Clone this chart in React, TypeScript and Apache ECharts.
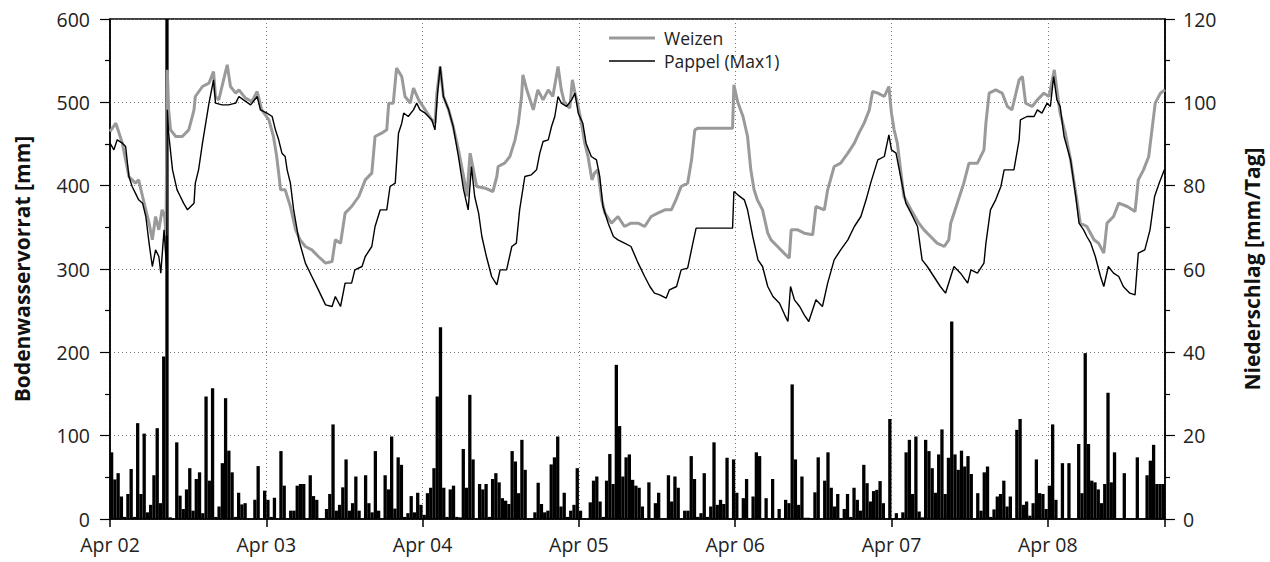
import React, { useEffect, useRef } from "react";
import * as echarts from "echarts";

// Hours since Apr 02 00:00 and soil water storage (mm)
const weizenHours = [0, 0.9, 1.9, 2.9, 3.9, 4.4, 5.0, 5.5, 6.0, 6.5, 7.0, 7.5, 8.0, 8.4, 8.6, 8.8, 9.0, 9.3, 10.1, 11.1, 12.1, 12.9, 13.1, 14.2, 15.2, 15.9, 16.2, 16.7, 18.0, 18.5, 19.3, 19.8, 20.8, 21.8, 22.6, 23.3, 24.4, 25.1, 25.6, 26.2, 26.9, 27.7, 28.5, 29.2, 30.0, 31.0, 32.0, 33.1, 34.1, 34.6, 35.4, 36.1, 37.1, 38.2, 39.2, 40.2, 40.7, 41.7, 42.5, 42.8, 43.5, 44.0, 44.8, 45.3, 46.1, 46.6, 47.4, 48.4, 49.4, 49.9, 50.2, 50.7, 51.2, 52.0, 52.7, 53.5, 54.3, 54.8, 55.3, 55.8, 56.3, 57.6, 58.8, 59.4, 59.6, 60.6, 61.4, 62.2, 62.7, 63.2, 63.4, 64.0, 65.0, 65.7, 66.5, 67.3, 68.0, 68.8, 69.3, 69.8, 70.6, 71.0, 71.4, 71.9, 72.4, 72.9, 73.4, 74.0, 74.4, 74.9, 75.5, 76.0, 77.0, 78.0, 79.0, 80.0, 81.1, 82.1, 83.1, 84.1, 85.2, 86.2, 86.9, 87.7, 88.7, 89.3, 89.8, 90.3, 95.6, 95.8, 96.4, 97.2, 97.9, 98.4, 98.9, 99.4, 100.2, 101.0, 101.5, 102.5, 103.5, 104.3, 104.6, 105.6, 106.6, 107.9, 108.4, 109.7, 110.2, 111.2, 112.2, 113.3, 114.3, 115.0, 115.8, 116.6, 117.1, 117.9, 118.9, 119.6, 120.0, 120.4, 120.9, 121.9, 123.0, 124.2, 125.0, 126.0, 127.0, 128.1, 128.8, 129.1, 130.1, 131.1, 131.9, 133.2, 134.2, 134.5, 135.0, 136.0, 137.0, 137.8, 138.5, 139.6, 140.1, 140.6, 141.6, 142.4, 143.4, 144.2, 145.0, 145.4, 145.9, 146.7, 147.5, 148.3, 149.0, 150.0, 151.1, 151.8, 152.6, 153.1, 154.1, 154.9, 156.2, 157.4, 157.9, 158.7, 159.5, 160.0, 160.5, 161.3, 162.0];
const weizenValues = [465, 475, 451, 411, 403, 407, 387, 371, 355, 335, 363, 347, 371, 363, 340, 539, 491, 467, 459, 459, 467, 491, 507, 519, 523, 537, 507, 503, 545, 519, 511, 515, 505, 501, 513, 491, 479, 459, 435, 395, 395, 375, 347, 335, 327, 323, 315, 307, 309, 335, 331, 367, 375, 387, 407, 415, 459, 463, 467, 499, 499, 541, 531, 507, 499, 517, 503, 491, 479, 475, 511, 543, 507, 491, 471, 443, 411, 387, 439, 419, 399, 397, 393, 411, 423, 427, 435, 455, 475, 507, 533, 515, 491, 515, 503, 515, 507, 543, 515, 499, 493, 527, 511, 495, 475, 451, 435, 407, 415, 419, 383, 367, 355, 363, 351, 355, 355, 351, 363, 367, 371, 371, 383, 399, 403, 431, 467, 469, 469, 521, 500, 483, 459, 419, 395, 383, 371, 343, 335, 327, 319, 313, 347, 347, 343, 341, 375, 371, 395, 423, 427, 439, 451, 463, 475, 491, 513, 511, 507, 519, 487, 467, 451, 387, 371, 355, 347, 339, 331, 327, 335, 355, 379, 403, 427, 427, 443, 475, 511, 515, 511, 495, 491, 527, 531, 499, 495, 503, 511, 507, 539, 515, 487, 463, 431, 391, 355, 351, 335, 331, 319, 355, 363, 379, 375, 369, 407, 419, 435, 467, 499, 511, 515];

const pappelHours = [0.0, 0.6, 1.1, 1.9, 2.4, 2.9, 3.4, 3.9, 4.4, 5.0, 5.5, 6.0, 6.5, 7.0, 7.5, 7.8, 8.3, 8.5, 8.7, 8.8, 9.0, 9.6, 10.3, 10.8, 11.3, 11.9, 12.4, 12.9, 13.1, 13.6, 14.2, 14.7, 15.2, 15.7, 15.9, 16.2, 17.2, 18.2, 19.3, 19.8, 20.5, 21.6, 22.6, 23.1, 24.1, 24.9, 25.4, 25.9, 26.4, 26.9, 27.2, 27.7, 28.2, 29.0, 30.0, 31.0, 32.0, 33.1, 34.1, 34.6, 35.4, 36.1, 37.1, 37.6, 38.7, 39.2, 40.2, 40.7, 41.5, 42.5, 43.0, 43.8, 44.3, 44.8, 45.1, 45.8, 46.6, 47.1, 47.6, 48.4, 49.4, 49.9, 50.3, 50.7, 51.2, 52.0, 52.7, 53.5, 54.3, 55.0, 55.5, 56.0, 56.6, 57.1, 57.8, 58.6, 59.4, 59.9, 60.9, 61.7, 62.4, 62.9, 63.7, 64.7, 65.5, 66.0, 66.5, 67.3, 67.8, 68.3, 68.8, 69.3, 70.1, 70.9, 71.4, 71.9, 72.6, 73.1, 73.9, 74.7, 75.2, 75.7, 76.5, 77.3, 78.0, 79.0, 80.0, 81.1, 82.1, 82.9, 83.6, 84.4, 85.4, 85.9, 87.0, 87.7, 88.7, 89.5, 90.0, 95.6, 95.8, 96.4, 97.4, 97.9, 98.7, 99.5, 100.2, 101.0, 101.8, 102.8, 103.6, 104.1, 104.5, 105.1, 105.9, 106.6, 107.3, 108.4, 109.4, 110.2, 111.2, 112.2, 113.3, 114.3, 115.3, 116.1, 116.8, 117.9, 118.9, 119.6, 120.0, 120.7, 121.4, 122.2, 123.0, 124.0, 124.7, 125.5, 126.5, 127.5, 128.3, 129.1, 129.6, 130.6, 131.7, 132.2, 133.2, 134.2, 134.5, 135.2, 136.0, 136.8, 137.3, 138.8, 139.6, 139.8, 140.8, 141.9, 142.4, 143.1, 143.9, 144.4, 144.9, 145.4, 145.9, 146.5, 147.5, 148.3, 148.8, 149.5, 150.0, 150.6, 151.3, 152.1, 152.6, 153.3, 154.1, 154.9, 155.6, 156.6, 157.4, 157.9, 158.9, 159.7, 160.4, 161.1, 161.9];
const pappelValues = [451, 443, 455, 451, 447, 411, 399, 391, 383, 379, 363, 331, 303, 323, 315, 295, 347, 323, 300, 491, 463, 419, 395, 387, 379, 371, 375, 379, 403, 419, 451, 475, 499, 519, 527, 499, 497, 497, 499, 507, 503, 497, 507, 491, 487, 483, 467, 455, 439, 435, 419, 403, 371, 335, 307, 291, 275, 257, 255, 267, 255, 283, 283, 299, 303, 315, 327, 351, 371, 371, 399, 403, 463, 475, 487, 483, 491, 499, 491, 487, 479, 467, 511, 543, 507, 491, 471, 435, 395, 371, 423, 387, 367, 339, 315, 291, 281, 299, 299, 327, 331, 371, 411, 413, 419, 439, 453, 455, 471, 483, 507, 499, 495, 503, 511, 487, 475, 451, 435, 431, 411, 375, 355, 339, 335, 331, 327, 307, 291, 279, 271, 269, 265, 275, 279, 299, 301, 331, 349, 349, 393, 389, 383, 371, 339, 311, 303, 279, 267, 259, 245, 237, 279, 263, 255, 245, 237, 263, 255, 283, 311, 323, 335, 351, 363, 383, 403, 431, 435, 461, 443, 439, 411, 379, 367, 351, 311, 303, 291, 279, 271, 291, 303, 295, 283, 299, 295, 307, 331, 371, 383, 399, 419, 419, 455, 479, 483, 483, 491, 487, 499, 495, 531, 503, 495, 459, 431, 387, 355, 347, 339, 331, 315, 291, 279, 303, 295, 291, 279, 271, 269, 319, 323, 347, 387, 403, 419];

// Precipitation (mm/Tag), one value per half hour from Apr 02 00:00
const rainStepHours = 0.5;
const rainValues = [
  16, 9.5, 11, 5.4, 0.5, 6, 12, 0.5, 23, 6,
  20.5, 1.6, 3.4, 10.5, 21.8, 3.8, 39, 120, 0.4, 0,
  18.4, 5.6, 2.4, 7.1, 12.2, 2, 9.6, 11.2, 1.4, 29.4,
  9.2, 31.4, 0.5, 3, 13.4, 29, 16.4, 11.2, 0.5, 6.3,
  3.5, 3.8, 0, 0, 4.6, 12.7, 0, 6.8, 4.6, 0.5,
  5.1, 0, 16.3, 8, 0, 2, 2, 8, 8.4, 8.4,
  0, 10.5, 5.5, 4.6, 0, 0, 2.4, 6, 22.7, 2,
  3.4, 7.6, 14.3, 2, 3.8, 10.2, 2, 0, 10.5, 3.8,
  1.6, 16.3, 2, 0, 10.5, 7.1, 19.8, 2.5, 14.8, 13,
  0.5, 1.4, 5.5, 1.6, 6.3, 3.4, 1, 6.2, 7.5, 12.2,
  29.4, 46, 7.5, 0.5, 7.1, 8, 0.5, 0.4, 16.8, 7.5,
  29.8, 14.3, 0, 8.4, 7.1, 8.4, 0.5, 9.6, 11, 8.8,
  5, 4.4, 3.6, 16.3, 13.8, 6.2, 19, 11.8, 0, 0,
  1.6, 8.7, 3.6, 1.6, 2, 13.1, 14.8, 19.8, 3, 6.3,
  0.5, 2, 3.4, 12.2, 2, 0, 0, 4, 9.2, 10.2,
  4.2, 0.5, 9.2, 15.6, 8.4, 37, 22.3, 10.2, 14.8, 15.5,
  9.4, 8, 7.5, 3, 0, 8.8, 0, 3.8, 6.3, 0,
  0, 10.5, 4.2, 10.2, 7.5, 0, 2, 2, 15.1, 9.6,
  0.5, 1.4, 11, 0.5, 3, 18.4, 3.4, 4.6, 3.6, 14.7,
  0, 14.3, 6.3, 0, 5, 9.6, 0, 5.4, 16, 15.1,
  0, 5, 0, 9.6, 0, 2.4, 0, 4.6, 3.8, 32.3,
  14.3, 3.4, 10.2, 0.3, 0.3, 0, 6.4, 14.8, 0, 9.2,
  16, 7.5, 3, 6, 0, 2.4, 6, 0.5, 7.5, 4.6,
  2, 13, 8.6, 4.2, 6.7, 7, 9.1, 3.8, 0, 24,
  0, 1.4, 0, 1.6, 16, 19, 6, 19.8, 1.8, 0.4,
  19, 16.3, 12.2, 6.3, 15.5, 21.5, 6, 14.7, 47.4, 15.5,
  11.8, 16.4, 12.6, 15.1, 10.8, 0, 6.2, 2, 11.2, 12.6,
  0.5, 2.3, 5.4, 6, 9.2, 3, 5.4, 0, 21.4, 24,
  3.4, 4.2, 0.8, 3.8, 14.3, 6.2, 6, 2.4, 8, 22.7,
  4.6, 0, 13.4, 0, 13.4, 0, 0, 18, 6.2, 39.8,
  18, 9.2, 8.8, 7.1, 3.8, 8.4, 30.3, 8.8, 16, 0,
  0, 11, 0, 0, 0, 14.8, 0, 0, 10.5, 14,
  17.8, 8.4, 8.4, 8.4,
];

const dayLabels = ["Apr 02", "Apr 03", "Apr 04", "Apr 05", "Apr 06", "Apr 07", "Apr 08"];
const seriesNames = ["Weizen", "Pappel (Max1)"];
const leftTitle = "Bodenwasservorrat [mm]";
const rightTitle = "Niederschlag [mm/Tag]";

const FONT = "Open Sans";

export default function App() {
  const ref = useRef<HTMLDivElement>(null);
  useEffect(() => {
    if (!ref.current) return;
    const chart = echarts.init(ref.current, null, { renderer: "svg" });
    const weizen = weizenHours.map((h, i) => [h, weizenValues[i]]);
    const pappel = pappelHours.map((h, i) => [h, pappelValues[i]]);
    const rain = rainValues.map((v, i) => [i * rainStepHours + rainStepHours / 2, v]);
    const labelStyle = { color: "#222", fontFamily: FONT, fontSize: 19.5 };
    const titleStyle = { color: "#111", fontFamily: FONT, fontSize: 21, fontWeight: "bold" };
    chart.setOption({
      animation: false,
      backgroundColor: "#fff",
      grid: {
        left: 110,
        right: 102,
        top: 19,
        bottom: 43,
        show: true,
        borderColor: "#000",
        borderWidth: 1.5,
      },
      xAxis: {
        type: "value",
        min: 0,
        max: 162,
        interval: 24,
        axisLine: { show: true, lineStyle: { color: "#000", width: 1.5 } },
        axisTick: { show: true, length: 8, lineStyle: { color: "#000", width: 1.5 } },
        axisLabel: {
          ...labelStyle,
          margin: 15,
          formatter: (v: number) => {
            const d = v / 24;
            return Number.isInteger(d) && d < dayLabels.length ? dayLabels[d] : "";
          },
        },
        splitLine: { show: true, lineStyle: { color: "#777", type: [1, 3], width: 1 } },
      },
      yAxis: [
        {
          type: "value",
          min: 0,
          max: 600,
          interval: 100,
          position: "left",
          name: leftTitle,
          nameLocation: "middle",
          nameRotate: 90,
          nameGap: 78,
          nameTextStyle: titleStyle,
          axisLine: { show: true, lineStyle: { color: "#000", width: 1.5 } },
          axisTick: { show: true, length: 10, lineStyle: { color: "#000", width: 1.2 } },
          minorTick: { show: true, splitNumber: 2, length: 5, lineStyle: { color: "#000", width: 1.2 } },
          axisLabel: { ...labelStyle, margin: 20 },
          splitLine: { show: true, lineStyle: { color: "#777", type: [1, 3], width: 1 } },
        },
        {
          type: "value",
          min: 0,
          max: 120,
          interval: 20,
          position: "right",
          name: rightTitle,
          nameLocation: "middle",
          nameRotate: 90,
          nameGap: 76,
          nameTextStyle: titleStyle,
          axisLine: { show: true, lineStyle: { color: "#000", width: 1.5 } },
          axisTick: { show: true, length: 10, lineStyle: { color: "#000", width: 1.2 } },
          minorTick: { show: true, splitNumber: 2, length: 5, lineStyle: { color: "#000", width: 1.2 } },
          axisLabel: { ...labelStyle, margin: 18 },
          splitLine: { show: false },
        },
      ],
      series: [
        {
          name: "Niederschlag",
          type: "bar",
          yAxisIndex: 1,
          data: rain,
          barWidth: 3.3,
          itemStyle: { color: "#000" },
          clip: true,
          z: 1,
        },
        {
          name: seriesNames[0],
          type: "line",
          data: weizen,
          symbol: "none",
          lineStyle: { color: "#9a9a9a", width: 3 },
          z: 2,
        },
        {
          name: seriesNames[1],
          type: "line",
          data: pappel,
          symbol: "none",
          lineStyle: { color: "#000", width: 1.4 },
          z: 3,
        },
      ],
      graphic: [
        { type: "line", shape: { x1: 609, y1: 38, x2: 655, y2: 38 }, style: { stroke: "#9a9a9a", lineWidth: 3 } },
        { type: "text", x: 664, y: 38, style: { text: seriesNames[0], fill: "#222", font: `17.5px ${FONT}`, verticalAlign: "middle" } },
        { type: "line", shape: { x1: 609, y1: 61, x2: 655, y2: 61 }, style: { stroke: "#000", lineWidth: 1.5 } },
        { type: "text", x: 664, y: 61, style: { text: seriesNames[1], fill: "#222", font: `17.5px ${FONT}`, verticalAlign: "middle" } },
      ],
    });
    return () => chart.dispose();
  }, []);
  return <div ref={ref} style={{ position: "fixed", left: 0, top: 0, width: 1270, height: 562 }} />;
}
